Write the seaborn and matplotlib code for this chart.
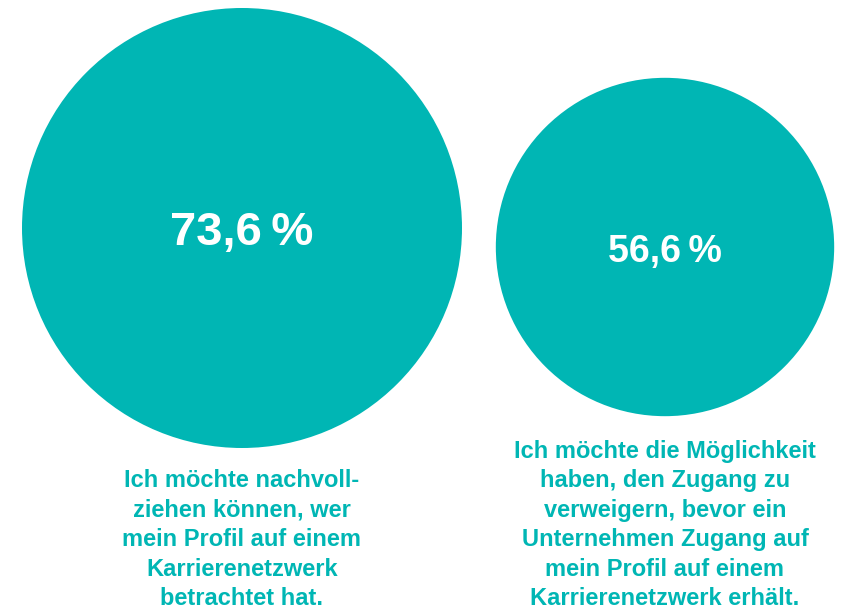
import matplotlib
matplotlib.use('Agg')

import matplotlib.pyplot as plt
from matplotlib.patches import Circle
import seaborn as sns

# data
values = [73.6, 56.6]
value_labels = ['73,6\u2009%', '56,6\u2009%']
captions = [
    'Ich möchte nachvoll-\nziehen können, wer\nmein Profil auf einem\nKarrierenetzwerk\nbetrachtet hat.',
    'Ich möchte die Möglichkeit\nhaben, den Zugang zu\nverweigern, bevor ein\nUnternehmen Zugang auf\nmein Profil auf einem\nKarrierenetzwerk erhält.',
]

sns.set_theme(style='white')
plt.rcParams['font.family'] = ['Liberation Sans', 'DejaVu Sans']

teal = '#00b6b4'

fig = plt.figure(figsize=(8.41, 6.09), dpi=100)
ax = fig.add_axes([0, 0, 1, 1])
ax.set_xlim(0, 841)
ax.set_ylim(609, 0)
ax.set_aspect('equal')
ax.axis('off')

# layout (pixels)
centers = [(242, 228), (665, 247)]
scale = 220 / values[0]          # radius per percent
label_sizes = [34, 27]
label_baseline = [17, 15]
caption_last_baseline = 605      # multi-line baseline = last line

for i, v in enumerate(values):
    cx, cy = centers[i]
    ax.add_patch(Circle((cx, cy), v * scale, color=teal, lw=0))
    ax.text(cx, cy + label_baseline[i], value_labels[i], color='white',
            fontsize=label_sizes[i], fontweight='bold', ha='center', va='baseline')
    ax.text(cx, caption_last_baseline, captions[i], color=teal, fontsize=17,
            fontweight='bold', ha='center', va='baseline', linespacing=1.36)

fig.savefig('out.png', dpi=100)
